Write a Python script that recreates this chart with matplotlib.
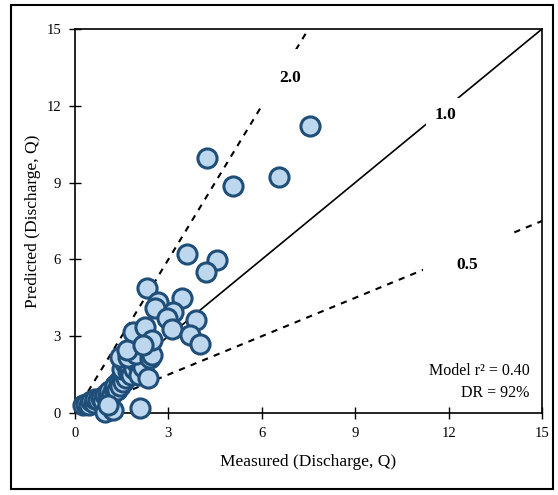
import matplotlib.pyplot as plt
from matplotlib.patches import Rectangle

plt.rcParams['font.family'] = ['Liberation Serif', 'DejaVu Serif']

# measured vs predicted discharge
measured = [0.25, 0.35, 0.45, 0.5, 0.6, 0.65, 0.75, 0.85, 0.9, 0.95,
            1.05, 1.1, 1.2, 1.25, 1.3, 1.35, 1.4, 1.45, 1.5, 1.55,
            1.6, 1.65, 1.5, 1.7, 1.6, 1.75, 1.8, 1.9, 2.0, 2.05,
            2.2, 1.45, 1.7, 1.95, 1.67, 2.4, 2.35, 2.47, 1.87, 2.25,
            2.47, 2.2, 0.97, 1.22, 1.05, 2.09,
            2.3, 2.67, 2.57, 3.43, 3.15, 2.95, 3.1, 3.9, 3.7, 4.0,
            3.6, 4.56, 4.2, 4.23, 5.08, 6.56, 7.55]
predicted = [0.3, 0.35, 0.3, 0.45, 0.4, 0.55, 0.5, 0.6, 0.45, 0.7,
             0.65, 0.85, 0.75, 0.95, 1.1, 0.9, 1.25, 1.05, 1.4, 1.2,
             1.55, 1.35, 1.7, 1.65, 1.95, 1.85, 1.5, 1.7, 1.95, 1.5,
             1.8, 2.2, 2.2, 2.3, 2.46, 2.15, 1.37, 2.27, 3.15, 3.36,
             2.85, 2.65, 0.05, 0.12, 0.3, 0.2,
             4.9, 4.35, 4.1, 4.5, 3.95, 3.7, 3.3, 3.65, 3.05, 2.7,
             6.2, 5.98, 5.5, 9.96, 8.87, 9.2, 11.2]

ratios = [2.0, 1.0, 0.5]
ratio_labels = ['2.0', '1.0', '0.5']
label_pos = [(6.9, 13.1), (11.9, 11.65), (12.6, 5.8)]
label_pad = [1.2, 0.5, 1.9]
ticks = [0, 3, 6, 9, 12, 15]

fig = plt.figure(figsize=(5.58, 4.95), dpi=100)
ax = fig.add_axes([0.1344, 0.1657, 0.8369, 0.7757])

xs = [0, 15]
for r in ratios:
    if r == 1.0:
        ax.plot(xs, [x * r for x in xs], color='black', lw=1.2, zorder=1)
    else:
        ax.plot(xs, [x * r for x in xs], color='black', lw=1.5,
                dashes=(3, 3), zorder=1)

for txt, (tx, ty), p in zip(ratio_labels, label_pos, label_pad):
    ax.text(tx, ty, txt, fontsize=12.5, fontweight='bold', ha='center',
            va='center', zorder=2,
            bbox=dict(boxstyle='square,pad=%s' % p, fc='white', ec='none'))

ax.scatter(measured, predicted, s=190, facecolor='#bdd7ee',
           edgecolor='#1f4e79', linewidth=2.2, zorder=3, clip_on=False)

ax.set_xlim(0, 15)
ax.set_ylim(0, 15)
ax.set_xticks(ticks)
ax.set_yticks(ticks)
ax.tick_params(direction='inout', length=8, width=1, labelsize=10.5, pad=6)
for s in ax.spines.values():
    s.set_linewidth(1.2)

ax.set_xlabel('Measured (Discharge, Q)', fontsize=12.5, labelpad=10)
ax.set_ylabel('Predicted (Discharge, Q)', fontsize=12.5, labelpad=4)

ax.text(14.6, 1.65, 'Model r\u00b2 = 0.40', fontsize=11.5, ha='right', va='center')
ax.text(14.6, 0.8, 'DR = 92%', fontsize=11.5, ha='right', va='center')

fig.patches.append(Rectangle((11 / 558, 6 / 495), 542 / 558, 484 / 495,
                             transform=fig.transFigure, fill=False,
                             ec='black', lw=1.5))

fig.savefig('out.png', dpi=100)
